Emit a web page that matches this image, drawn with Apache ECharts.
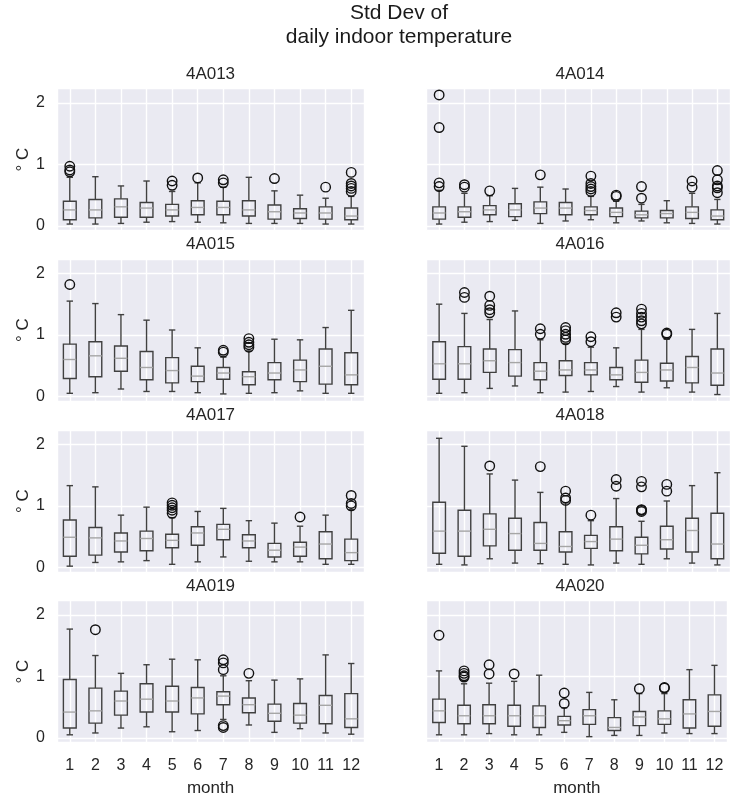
<!DOCTYPE html>
<html>
<head>
<meta charset="utf-8">
<script src="https://cdn.jsdelivr.net/npm/echarts@6/dist/echarts.min.js"></script>
<style>
  html, body { margin: 0; padding: 0; background: #ffffff; }
  #chart { width: 730px; height: 799px; }
</style>
</head>
<body>
<div id="chart"></div>
<script>
// Month categories along the x axis and the labelled y ticks
const months = ['1', '2', '3', '4', '5', '6', '7', '8', '9', '10', '11', '12'];
const yTicks = [0, 1, 2];
const stations = ['4A013', '4A014', '4A015', '4A016', '4A017', '4A018', '4A019', '4A020'];

// Per month: [lower whisker, Q1, median, Q3, upper whisker] of the daily std dev (°C)
const box4A013 = [
  [0.03, 0.10, 0.26, 0.40, 0.79], [0.03, 0.13, 0.26, 0.43, 0.80], [0.04, 0.14, 0.31, 0.44, 0.65],
  [0.06, 0.14, 0.29, 0.38, 0.73], [0.07, 0.16, 0.26, 0.35, 0.56], [0.06, 0.18, 0.30, 0.41, 0.70],
  [0.05, 0.18, 0.30, 0.40, 0.63], [0.04, 0.16, 0.26, 0.41, 0.79], [0.04, 0.11, 0.23, 0.34, 0.57],
  [0.04, 0.12, 0.21, 0.28, 0.50], [0.03, 0.11, 0.21, 0.31, 0.45], [0.03, 0.10, 0.16, 0.29, 0.48]
];
const out4A013 = [[0.97, 0.91, 0.88], [], [], [], [0.73, 0.66], [0.78], [0.75, 0.70], [], [0.77], [], [0.63],
  [0.87, 0.69, 0.65, 0.61, 0.56]];

const box4A014 = [
  [0.03, 0.11, 0.21, 0.31, 0.58], [0.06, 0.14, 0.23, 0.31, 0.53], [0.07, 0.18, 0.26, 0.33, 0.49],
  [0.09, 0.15, 0.26, 0.36, 0.61], [0.04, 0.20, 0.29, 0.39, 0.63], [0.08, 0.18, 0.29, 0.38, 0.60],
  [0.10, 0.18, 0.25, 0.31, 0.48], [0.05, 0.15, 0.22, 0.29, 0.40], [0.08, 0.13, 0.18, 0.24, 0.35],
  [0.05, 0.13, 0.20, 0.25, 0.41], [0.04, 0.12, 0.22, 0.31, 0.53], [0.03, 0.10, 0.16, 0.26, 0.43]
];
const out4A014 = [[2.13, 1.60, 0.70, 0.64], [0.67, 0.63], [0.57], [], [0.83], [], [0.81, 0.69, 0.64, 0.60, 0.56],
  [0.50, 0.48], [0.64, 0.45], [], [0.73, 0.63], [0.90, 0.75, 0.65, 0.62, 0.54]];

const box4A015 = [
  [0.05, 0.29, 0.60, 0.85, 1.55], [0.06, 0.32, 0.66, 0.89, 1.51], [0.12, 0.41, 0.62, 0.82, 1.33],
  [0.08, 0.27, 0.47, 0.73, 1.24], [0.08, 0.22, 0.42, 0.63, 1.08], [0.06, 0.24, 0.33, 0.49, 0.79],
  [0.04, 0.28, 0.38, 0.47, 0.64], [0.05, 0.19, 0.32, 0.40, 0.74], [0.06, 0.27, 0.38, 0.55, 0.93],
  [0.09, 0.24, 0.43, 0.59, 0.92], [0.05, 0.20, 0.49, 0.77, 1.12], [0.05, 0.19, 0.35, 0.71, 1.40]
];
const out4A015 = [[1.82], [], [], [], [], [], [0.75, 0.72], [0.94, 0.88, 0.84, 0.80], [], [], [], []];

const box4A016 = [
  [0.05, 0.28, 0.53, 0.89, 1.50], [0.06, 0.28, 0.53, 0.81, 1.35], [0.13, 0.39, 0.58, 0.77, 1.25],
  [0.17, 0.33, 0.55, 0.76, 1.39], [0.06, 0.27, 0.41, 0.55, 0.92], [0.07, 0.34, 0.43, 0.58, 0.86],
  [0.08, 0.35, 0.43, 0.55, 0.80], [0.16, 0.27, 0.35, 0.47, 0.79], [0.07, 0.23, 0.39, 0.59, 1.09],
  [0.14, 0.25, 0.43, 0.54, 0.93], [0.07, 0.22, 0.47, 0.65, 1.09], [0.03, 0.18, 0.38, 0.77, 1.35]
];
const out4A016 = [[], [1.69, 1.61], [1.63, 1.48, 1.41, 1.36], [], [1.10, 1.01], [1.12, 1.07, 1.01, 0.96, 0.92],
  [0.97, 0.89], [1.36, 1.29], [1.42, 1.35, 1.29, 1.23, 1.18], [1.03, 1.01], [], []];

const box4A017 = [
  [0.02, 0.18, 0.49, 0.77, 1.33], [0.08, 0.20, 0.48, 0.65, 1.31], [0.09, 0.25, 0.43, 0.56, 0.85],
  [0.11, 0.27, 0.47, 0.59, 0.98], [0.05, 0.32, 0.44, 0.54, 0.81], [0.09, 0.36, 0.56, 0.66, 0.91],
  [0.17, 0.45, 0.62, 0.70, 0.96], [0.10, 0.32, 0.43, 0.53, 0.76], [0.09, 0.17, 0.28, 0.39, 0.72],
  [0.09, 0.18, 0.33, 0.41, 0.67], [0.05, 0.14, 0.38, 0.58, 0.85], [0.05, 0.11, 0.24, 0.46, 0.94]
];
const out4A017 = [[], [], [], [], [1.05, 1.01, 0.97, 0.93, 0.88], [], [], [], [], [0.82], [], [1.17, 1.04, 1.00]];

const box4A018 = [
  [0.05, 0.23, 0.59, 1.06, 2.10], [0.04, 0.18, 0.59, 0.93, 1.97], [0.14, 0.35, 0.62, 0.87, 1.52],
  [0.07, 0.28, 0.55, 0.80, 1.42], [0.06, 0.28, 0.39, 0.73, 1.22], [0.05, 0.25, 0.34, 0.58, 1.05],
  [0.04, 0.31, 0.42, 0.52, 0.76], [0.07, 0.27, 0.46, 0.66, 1.12], [0.05, 0.22, 0.36, 0.49, 0.75],
  [0.14, 0.30, 0.45, 0.67, 1.08], [0.07, 0.25, 0.60, 0.80, 1.33], [0.04, 0.14, 0.38, 0.88, 1.54]
];
const out4A018 = [[], [], [1.65], [], [1.64], [1.24, 1.13, 1.09], [0.85], [1.43, 1.32],
  [1.40, 1.31, 0.94, 0.93, 0.91], [1.35, 1.24], [], []];

const box4A019 = [
  [0.05, 0.16, 0.42, 0.95, 1.77], [0.08, 0.24, 0.44, 0.81, 1.34], [0.16, 0.37, 0.60, 0.76, 1.05],
  [0.18, 0.42, 0.63, 0.88, 1.19], [0.10, 0.42, 0.60, 0.84, 1.28], [0.12, 0.39, 0.65, 0.82, 1.27],
  [0.30, 0.54, 0.68, 0.75, 1.01], [0.21, 0.41, 0.54, 0.65, 0.93], [0.09, 0.27, 0.40, 0.55, 0.94],
  [0.15, 0.24, 0.37, 0.56, 0.96], [0.08, 0.23, 0.53, 0.69, 1.35], [0.06, 0.17, 0.31, 0.72, 1.21]
];
const out4A019 = [[], [1.76], [], [], [], [], [1.27, 1.22, 1.11, 0.20, 0.17], [1.05], [], [], [], []];

const box4A020 = [
  [0.05, 0.25, 0.44, 0.63, 1.09], [0.05, 0.23, 0.36, 0.53, 0.88], [0.07, 0.23, 0.36, 0.54, 0.89],
  [0.05, 0.19, 0.36, 0.53, 0.92], [0.05, 0.17, 0.36, 0.52, 1.02], [0.09, 0.21, 0.28, 0.35, 0.49],
  [0.02, 0.22, 0.36, 0.46, 0.74], [0.04, 0.12, 0.17, 0.33, 0.62], [0.04, 0.20, 0.34, 0.43, 0.72],
  [0.08, 0.22, 0.31, 0.44, 0.72], [0.07, 0.16, 0.39, 0.62, 1.11], [0.07, 0.19, 0.43, 0.70, 1.18]
];
const out4A020 = [[1.67], [1.09, 1.05, 1.01, 0.99], [1.19, 1.04], [1.04], [], [0.73, 0.56], [], [], [0.80],
  [0.82, 0.81], [], []];

const boxes = [box4A013, box4A014, box4A015, box4A016, box4A017, box4A018, box4A019, box4A020];
const outliers = [out4A013, out4A014, out4A015, out4A016, out4A017, out4A018, out4A019, out4A020];

const FONT = '"Liberation Sans", Arial, sans-serif';
const TEXT = '#262626';
const BOX_COLOR = '#404040';
const MEDIAN_COLOR = '#a6a6a6';
const PANEL_BG = '#eaeaf2';

const colLeft = [57, 426.5];
const panelWidth = 307;
const rowTop = [88.5, 259, 430, 600.5];
const panelHeight = 142;

// Draws one box-and-whisker glyph from [month, low, q1, median, q3, high]
function renderBox(params, api) {
  const m = api.value(0);
  const lo = api.coord([m, api.value(1)]);
  const q1 = api.coord([m, api.value(2)]);
  const md = api.coord([m, api.value(3)]);
  const q3 = api.coord([m, api.value(4)]);
  const hi = api.coord([m, api.value(5)]);
  const unit = api.size([1, 0])[0];
  const half = unit * 0.25;
  const cap = unit * 0.125;
  const cx = lo[0];
  const edge = { stroke: BOX_COLOR, lineWidth: 1.4, fill: null };
  return {
    type: 'group',
    children: [
      { type: 'line', shape: { x1: cx, y1: q3[1], x2: cx, y2: hi[1] }, style: edge },
      { type: 'line', shape: { x1: cx, y1: q1[1], x2: cx, y2: lo[1] }, style: edge },
      { type: 'line', shape: { x1: cx - cap, y1: hi[1], x2: cx + cap, y2: hi[1] }, style: edge },
      { type: 'line', shape: { x1: cx - cap, y1: lo[1], x2: cx + cap, y2: lo[1] }, style: edge },
      { type: 'rect', shape: { x: cx - half, y: q3[1], width: half * 2, height: q1[1] - q3[1] }, style: edge },
      { type: 'line', shape: { x1: cx - half, y1: md[1], x2: cx + half, y2: md[1] },
        style: { stroke: MEDIAN_COLOR, lineWidth: 1.4 } }
    ]
  };
}

const grid = [], xAxis = [], yAxis = [], series = [];
const title = [{
  text: 'Std Dev of\ndaily indoor temperature',
  left: 399, top: 1, textAlign: 'center', padding: 0,
  textStyle: { fontFamily: FONT, fontSize: 21, fontWeight: 'normal', color: '#1a1a1a', lineHeight: 24 }
}];

stations.forEach((name, i) => {
  const col = i % 2;
  const row = Math.floor(i / 2);
  grid.push({
    left: colLeft[col], top: rowTop[row], width: panelWidth, height: panelHeight,
    show: true, backgroundColor: PANEL_BG, borderWidth: 0
  });
  title.push({
    text: name, left: colLeft[col] + panelWidth / 2, top: rowTop[row] - 24,
    textAlign: 'center', padding: 0,
    textStyle: { fontFamily: FONT, fontSize: 17, fontWeight: 'normal', color: TEXT, lineHeight: 19 }
  });
  xAxis.push({
    gridIndex: i, type: 'value', min: 0.5, max: 12.5, splitNumber: 12,
    axisLine: { show: false }, axisTick: { show: false },
    axisLabel: {
      show: row === 3, margin: 15, fontFamily: FONT, fontSize: 16, color: TEXT,
      formatter: v => (Number.isInteger(v) && v >= 1 && v <= 12) ? months[v - 1] : ''
    },
    splitLine: { show: true, lineStyle: { color: '#ffffff', width: 1.4 } },
    name: row === 3 ? 'month' : '', nameLocation: 'middle', nameGap: 37,
    nameTextStyle: { fontFamily: FONT, fontSize: 17, color: TEXT }
  });
  yAxis.push({
    gridIndex: i, type: 'value', min: -0.075, max: 2.235, splitNumber: 2,
    axisLine: { show: false }, axisTick: { show: false },
    axisLabel: {
      show: col === 0, margin: 12, fontFamily: FONT, fontSize: 16, color: TEXT,
      formatter: v => yTicks.includes(v) ? String(v) : ''
    },
    splitLine: { show: true, lineStyle: { color: '#ffffff', width: 1.4 } },
    name: col === 0 ? '° C' : '', nameLocation: 'middle', nameGap: 21, nameRotate: 90,
    nameTextStyle: { fontFamily: FONT, fontSize: 17, color: TEXT }
  });
  series.push({
    type: 'custom', xAxisIndex: i, yAxisIndex: i,
    data: boxes[i].map((b, k) => [k + 1].concat(b)),
    encode: { x: 0, y: [1, 2, 3, 4, 5] },
    renderItem: renderBox, silent: true
  });
  const pts = [];
  outliers[i].forEach((vals, k) => vals.forEach(v => pts.push([k + 1, v])));
  series.push({
    type: 'scatter', xAxisIndex: i, yAxisIndex: i, data: pts,
    symbol: 'circle', symbolSize: 9.5, silent: true,
    itemStyle: { color: 'rgba(0,0,0,0)', borderColor: '#111111', borderWidth: 1.4, opacity: 1 }
  });
});

const chart = echarts.init(document.getElementById('chart'), null, { renderer: 'canvas' });
chart.setOption({
  animation: false,
  backgroundColor: '#ffffff',
  title, grid, xAxis, yAxis, series
});
</script>
</body>
</html>
